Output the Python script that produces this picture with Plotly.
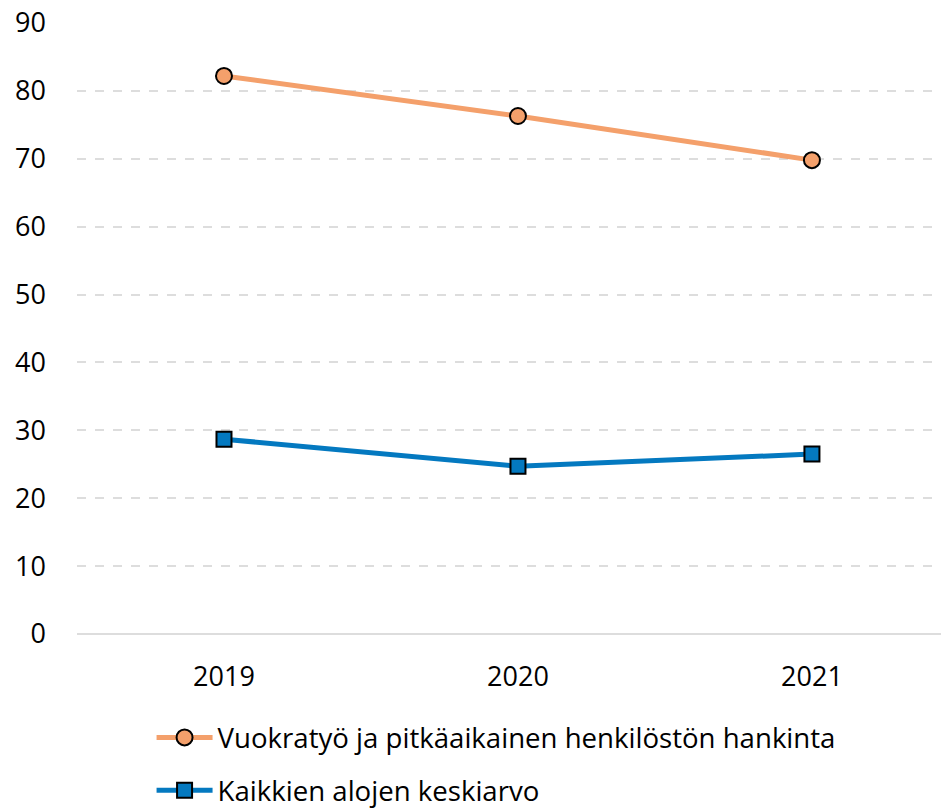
import plotly.graph_objects as go

years = ["2019", "2020", "2021"]
vuokratyo = [82.2, 76.3, 69.8]
keskiarvo = [28.7, 24.7, 26.5]
name_vuokra = "Vuokratyö ja pitkäaikainen henkilöstön hankinta"
name_keski = "Kaikkien alojen keskiarvo"
y_ticks = [0, 10, 20, 30, 40, 50, 60, 70, 80, 90]

fig = go.Figure()
fig.add_trace(go.Scatter(
    x=years, y=vuokratyo, name=name_vuokra, mode="lines+markers", legendgroup="a",
    line=dict(color="#F4A06B", width=5),
    marker=dict(symbol="circle", size=16, color="#F4A06B", line=dict(color="black", width=2)),
))
fig.add_trace(go.Scatter(
    x=years, y=keskiarvo, name=name_keski, mode="lines+markers", legendgroup="b",
    line=dict(color="#0479C0", width=5),
    marker=dict(symbol="square", size=15, color="#0479C0", line=dict(color="black", width=2)),
))

fig.update_layout(
    width=941, height=808,
    margin=dict(l=77, r=0, t=23, b=174),
    paper_bgcolor="white", plot_bgcolor="white",
    font=dict(family="Open Sans", size=27, color="black"),
    showlegend=True,
    legend=dict(orientation="v", x=0.0863, xanchor="left", y=0.1176, yanchor="top",
                yref="container", font=dict(size=27.6), traceorder="grouped",
                tracegroupgap=14, itemwidth=56),
    xaxis=dict(type="category", range=[-0.5, 2.439], showgrid=False, showline=False,
               ticks="", tickfont=dict(size=27), ticklabelstandoff=24, fixedrange=True),
    yaxis=dict(range=[0, 90], tickvals=y_ticks, showgrid=True, gridcolor="#DDDDDD",
               griddash="dash", gridwidth=1.5, zeroline=True, zerolinecolor="#DDDDDD",
               zerolinewidth=2, showline=False, ticks="", ticklabelstandoff=30,
               ticklabeloverflow="allow", tickfont=dict(size=27)),
)

fig.write_html(
    "out.html",
    config={"displayModeBar": False},
    post_script="document.body.style.margin='0';document.body.style.overflow='hidden';",
)
